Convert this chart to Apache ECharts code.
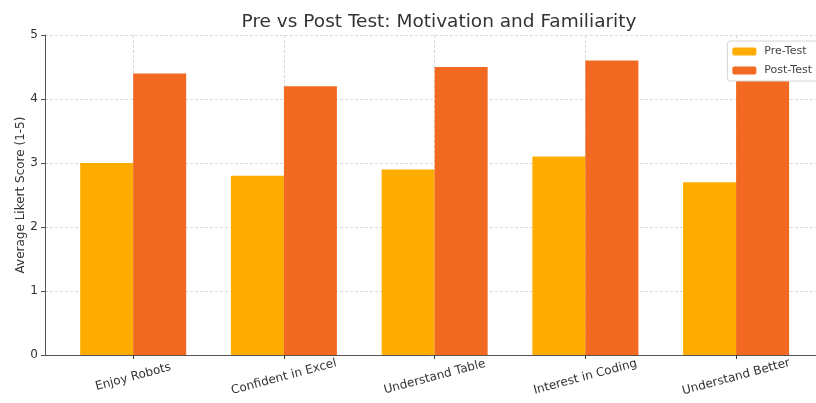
<!DOCTYPE html>
<html>
<head>
<meta charset="utf-8">
<script src="https://cdn.jsdelivr.net/npm/echarts@6/dist/echarts.min.js"></script>
<style>
  html, body { margin: 0; padding: 0; background: #fff; }
  #chart { width: 816px; height: 403px; }
</style>
</head>
<body>
<div id="chart"></div>
<script>
// Survey items and mean Likert scores before and after the activity
const categories = ['Enjoy Robots', 'Confident in Excel', 'Understand Table', 'Interest in Coding', 'Understand Better'];
const preTest = [3.0, 2.8, 2.9, 3.1, 2.7];
const postTest = [4.4, 4.2, 4.5, 4.6, 4.4];
const yTicks = [0, 1, 2, 3, 4, 5];

const positions = categories.map((_, i) => i);
const font = 'DejaVu Sans, sans-serif';

const chart = echarts.init(document.getElementById('chart'), null, { renderer: 'canvas' });

chart.setOption({
  animation: false,
  backgroundColor: '#ffffff',
  title: {
    text: 'Pre vs Post Test: Motivation and Familiarity',
    left: 434,
    textAlign: 'center',
    top: 8,
    textStyle: { fontFamily: font, fontSize: 18.5, fontWeight: 'normal', color: '#333' }
  },
  legend: {
    orient: 'vertical',
    right: -4,
    top: 41,
    itemWidth: 24,
    itemHeight: 8,
    itemGap: 8,
    padding: [5, 8, 5, 5],
    backgroundColor: '#fff',
    borderColor: '#d6d6d6',
    borderWidth: 1,
    borderRadius: 3,
    textStyle: { fontFamily: font, fontSize: 11, color: '#444', padding: [0, 0, 0, 3] },
    data: ['Pre-Test', 'Post-Test']
  },
  grid: { left: 45, right: 0, top: 35, bottom: 48, containLabel: false },
  xAxis: {
    type: 'value',
    min: -0.585,
    max: 4.53,
    axisLine: { show: true, onZero: false, lineStyle: { color: '#555', width: 1 } },
    axisTick: { show: true, customValues: positions, length: 4, lineStyle: { color: '#333' } },
    axisLabel: {
      customValues: positions,
      formatter: v => categories[Math.round(v)],
      rotate: 15,
      align: 'center',
      verticalAlign: 'middle',
      margin: 22,
      fontFamily: font,
      fontSize: 12,
      color: '#333'
    },
    splitLine: { show: true, lineStyle: { color: '#d8d8d8', type: [3, 2], width: 1 } }
  },
  yAxis: {
    type: 'value',
    min: yTicks[0],
    max: yTicks[yTicks.length - 1],
    interval: 1,
    name: 'Average Likert Score (1-5)',
    nameLocation: 'middle',
    nameGap: 18,
    nameMoveOverlap: false,
    nameTextStyle: { fontFamily: font, fontSize: 12, color: '#333' },
    axisLine: { show: true, onZero: false, lineStyle: { color: '#555', width: 1 } },
    axisTick: { show: true, length: 4, lineStyle: { color: '#555' } },
    axisLabel: { fontFamily: font, fontSize: 12, color: '#333', margin: 7 },
    splitLine: { show: true, lineStyle: { color: '#d8d8d8', type: [3, 2], width: 1 } }
  },
  series: [
    {
      name: 'Pre-Test',
      type: 'bar',
      barWidth: 53,
      barGap: '0%',
      itemStyle: { color: '#FFAC00' },
      data: preTest.map((v, i) => [positions[i], v])
    },
    {
      name: 'Post-Test',
      type: 'bar',
      barWidth: 53,
      barGap: '0%',
      itemStyle: { color: '#F26A21' },
      data: postTest.map((v, i) => [positions[i], v])
    }
  ]
});
</script>
</body>
</html>
